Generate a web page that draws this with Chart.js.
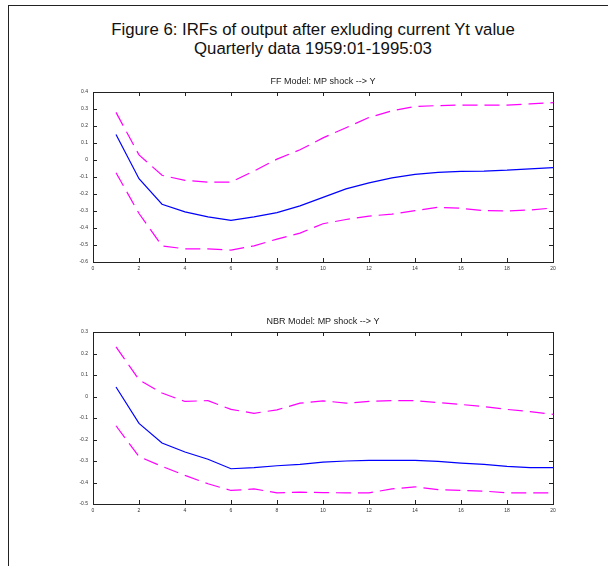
<!DOCTYPE html>
<html>
<head>
<meta charset="utf-8">
<script src="https://cdn.jsdelivr.net/npm/chart.js@4/dist/chart.umd.min.js"></script>
<style>
  body { margin: 0; background: #fff; width: 608px; height: 566px; position: relative; overflow: hidden; }
  #frame { position: absolute; left: 8px; top: 5px; width: 600px; height: 561px; border-top: 1px solid #222; border-left: 1px solid #222; }
  #title { position: absolute; left: 8px; width: 610px; top: 20px; text-align: center; font: 16.8px "Liberation Sans", Arial, sans-serif; line-height: 19px; color: #111; }
  canvas { position: absolute; left: 0; }
</style>
</head>
<body>
<div id="frame"></div>
<div id="title">Figure 6: IRFs of output after exluding current Yt value<br>Quarterly data 1959:01-1995:03</div>
<canvas id="ffChart" width="608" height="215" style="top:70px"></canvas>
<canvas id="nbrChart" width="608" height="217" style="top:310px"></canvas>
<script>
// horizons (quarters)
const horizons = [1, 2, 3, 4, 5, 6, 7, 8, 9, 10, 11, 12, 13, 14, 15, 16, 17, 18, 19, 20];

// FF model
const ffIrf = [0.15, -0.11, -0.26, -0.305, -0.335, -0.355, -0.335, -0.31, -0.27, -0.22, -0.17, -0.135, -0.105, -0.085, -0.073, -0.067, -0.065, -0.06, -0.052, -0.045];
const ffUpper = [0.28, 0.03, -0.09, -0.12, -0.13, -0.13, -0.065, 0.005, 0.06, 0.13, 0.19, 0.25, 0.29, 0.315, 0.32, 0.323, 0.323, 0.323, 0.33, 0.337];
const ffLower = [-0.075, -0.315, -0.505, -0.523, -0.523, -0.53, -0.505, -0.465, -0.43, -0.375, -0.35, -0.33, -0.318, -0.298, -0.278, -0.284, -0.298, -0.3, -0.294, -0.282];

// NBR model
const nbrIrf = [0.044, -0.125, -0.216, -0.258, -0.292, -0.336, -0.331, -0.322, -0.316, -0.305, -0.3, -0.297, -0.297, -0.297, -0.302, -0.31, -0.316, -0.325, -0.331, -0.331];
const nbrUpper = [0.231, 0.078, 0.016, -0.023, -0.019, -0.06, -0.078, -0.062, -0.031, -0.02, -0.031, -0.023, -0.019, -0.019, -0.028, -0.037, -0.047, -0.06, -0.07, -0.083];
const nbrLower = [-0.136, -0.28, -0.325, -0.367, -0.406, -0.437, -0.43, -0.448, -0.445, -0.447, -0.448, -0.448, -0.43, -0.42, -0.433, -0.437, -0.44, -0.448, -0.448, -0.448];

const pts = (vals) => vals.map((v, i) => ({ x: horizons[i], y: v }));

// box round the plot area, ticks pointing inwards on all four sides, title over the box
const boxTicks = {
  id: "boxTicks",
  afterDraw(chart, args, opts) {
    const { ctx, chartArea: a, scales } = chart;
    const len = 4;
    ctx.save();
    ctx.strokeStyle = "#222";
    ctx.lineWidth = 1;
    ctx.strokeRect(Math.round(a.left) + 0.5, Math.round(a.top) + 0.5, Math.round(a.right - a.left), Math.round(a.bottom - a.top));
    ctx.beginPath();
    scales.x.ticks.forEach((t) => {
      const px = Math.round(scales.x.getPixelForValue(t.value)) + 0.5;
      ctx.moveTo(px, a.bottom); ctx.lineTo(px, a.bottom - len);
      ctx.moveTo(px, a.top); ctx.lineTo(px, a.top + len);
    });
    scales.y.ticks.forEach((t) => {
      const py = Math.round(scales.y.getPixelForValue(t.value)) + 0.5;
      ctx.moveTo(a.left, py); ctx.lineTo(a.left + len, py);
      ctx.moveTo(a.right, py); ctx.lineTo(a.right - len, py);
    });
    ctx.stroke();
    ctx.fillStyle = "#222";
    ctx.font = '9px "Liberation Sans", Arial, sans-serif';
    ctx.textAlign = "center";
    ctx.textBaseline = "middle";
    ctx.fillText(opts.text, (a.left + a.right) / 2, a.top - 10);
    ctx.restore();
  },
};

function irfChart(id, title, irf, upper, lower, yMin, yMax) {
  const line = (label, vals, color, dash) => ({
    label: label,
    data: pts(vals),
    borderColor: color,
    borderWidth: 1.2,
    borderDash: dash,
    pointRadius: 0,
    tension: 0,
    fill: false,
  });
  new Chart(document.getElementById(id), {
    type: "line",
    data: {
      datasets: [
        line("upper", upper, "#ff00ff", [15, 7]),
        line("irf", irf, "#0000ff", []),
        line("lower", lower, "#ff00ff", [15, 7]),
      ],
    },
    options: {
      responsive: false,
      animation: false,
      layout: { padding: { left: 0, right: 55, top: 22, bottom: 0 } },
      scales: {
        x: {
          type: "linear",
          min: 0,
          max: 20,
          grid: { display: false, drawTicks: false },
          border: { display: false },
          ticks: { stepSize: 2, font: { size: 5, family: "Liberation Sans" }, color: "#333", padding: 4, maxRotation: 0 },
          afterFit: (s) => { s.height = 23; },
        },
        y: {
          min: yMin,
          max: yMax,
          grid: { display: false, drawTicks: false },
          border: { display: false },
          ticks: { stepSize: 0.1, font: { size: 5, family: "Liberation Sans" }, color: "#333", padding: 5 },
          afterFit: (s) => { s.width = 93; },
        },
      },
      plugins: {
        legend: { display: false },
        tooltip: { enabled: false },
        title: { display: false },
        boxTicks: { text: title },
      },
    },
    plugins: [boxTicks],
  });
}

irfChart("ffChart", "FF Model: MP shock --> Y", ffIrf, ffUpper, ffLower, -0.6, 0.4);
irfChart("nbrChart", "NBR Model: MP shock --> Y", nbrIrf, nbrUpper, nbrLower, -0.5, 0.3);
</script>
</body>
</html>
